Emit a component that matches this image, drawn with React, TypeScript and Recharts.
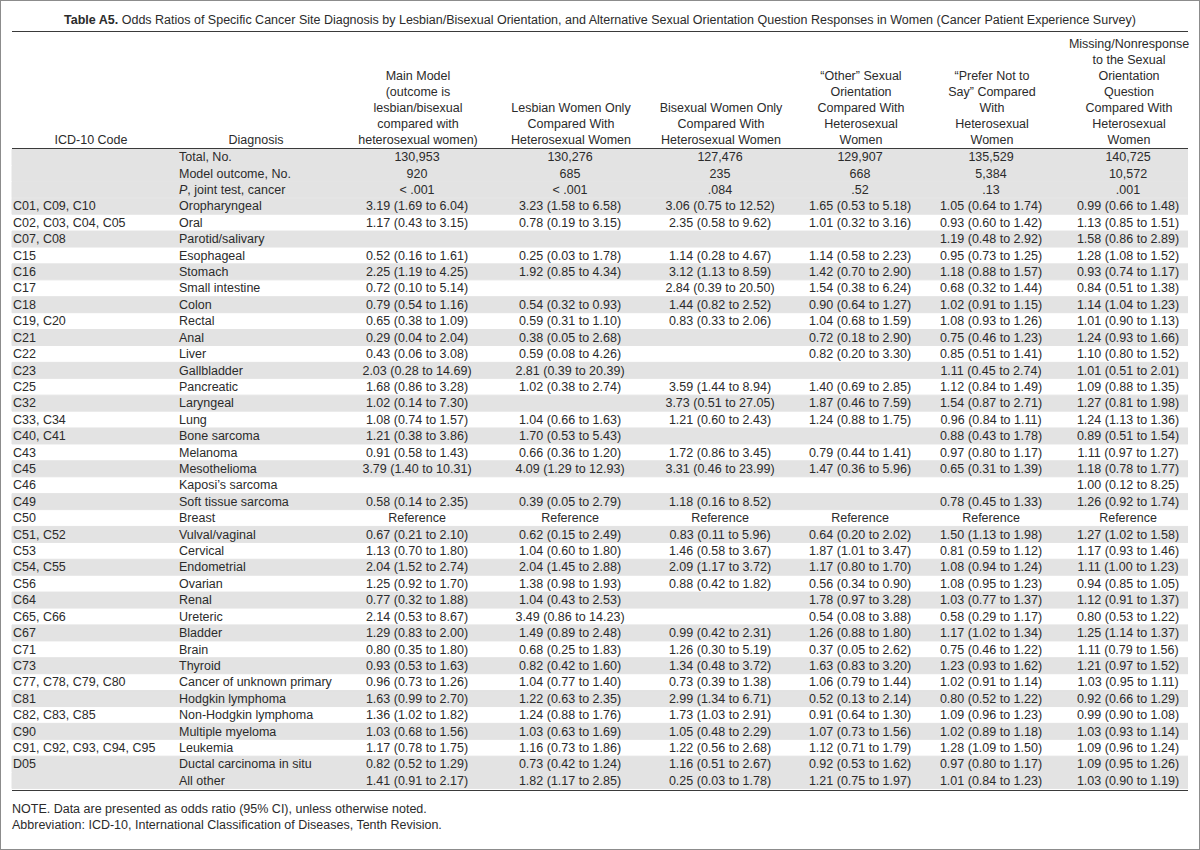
import React from "react";
import { BarChart, Bar, XAxis, YAxis } from "recharts";

const FONT = '"Liberation Sans", Arial, sans-serif';
const INK = "#2b2b2b";

const codes = [
  "", "", "",
  "C01, C09, C10", "C02, C03, C04, C05", "C07, C08", "C15", "C16", "C17", "C18",
  "C19, C20", "C21", "C22", "C23", "C25", "C32", "C33, C34", "C40, C41", "C43",
  "C45", "C46", "C49", "C50", "C51, C52", "C53", "C54, C55", "C56", "C64",
  "C65, C66", "C67", "C71", "C73", "C77, C78, C79, C80", "C81", "C82, C83, C85",
  "C90", "C91, C92, C93, C94, C95", "D05", "",
];

const diagnoses = [
  "Total, No.", "Model outcome, No.", "P, joint test, cancer",
  "Oropharyngeal", "Oral", "Parotid/salivary", "Esophageal", "Stomach",
  "Small intestine", "Colon", "Rectal", "Anal", "Liver", "Gallbladder",
  "Pancreatic", "Laryngeal", "Lung", "Bone sarcoma", "Melanoma", "Mesothelioma",
  "Kaposi\u2019s sarcoma", "Soft tissue sarcoma", "Breast", "Vulval/vaginal",
  "Cervical", "Endometrial", "Ovarian", "Renal", "Ureteric", "Bladder", "Brain",
  "Thyroid", "Cancer of unknown primary", "Hodgkin lymphoma",
  "Non-Hodgkin lymphoma", "Multiple myeloma", "Leukemia",
  "Ductal carcinoma in situ", "All other",
];

const mainModel = [
  "130,953", "920", "< .001",
  "3.19 (1.69 to 6.04)", "1.17 (0.43 to 3.15)", "", "0.52 (0.16 to 1.61)",
  "2.25 (1.19 to 4.25)", "0.72 (0.10 to 5.14)", "0.79 (0.54 to 1.16)",
  "0.65 (0.38 to 1.09)", "0.29 (0.04 to 2.04)", "0.43 (0.06 to 3.08)",
  "2.03 (0.28 to 14.69)", "1.68 (0.86 to 3.28)", "1.02 (0.14 to 7.30)",
  "1.08 (0.74 to 1.57)", "1.21 (0.38 to 3.86)", "0.91 (0.58 to 1.43)",
  "3.79 (1.40 to 10.31)", "", "0.58 (0.14 to 2.35)", "Reference",
  "0.67 (0.21 to 2.10)", "1.13 (0.70 to 1.80)", "2.04 (1.52 to 2.74)",
  "1.25 (0.92 to 1.70)", "0.77 (0.32 to 1.88)", "2.14 (0.53 to 8.67)",
  "1.29 (0.83 to 2.00)", "0.80 (0.35 to 1.80)", "0.93 (0.53 to 1.63)",
  "0.96 (0.73 to 1.26)", "1.63 (0.99 to 2.70)", "1.36 (1.02 to 1.82)",
  "1.03 (0.68 to 1.56)", "1.17 (0.78 to 1.75)", "0.82 (0.52 to 1.29)",
  "1.41 (0.91 to 2.17)",
];

const lesbianOnly = [
  "130,276", "685", "< .001",
  "3.23 (1.58 to 6.58)", "0.78 (0.19 to 3.15)", "", "0.25 (0.03 to 1.78)",
  "1.92 (0.85 to 4.34)", "", "0.54 (0.32 to 0.93)", "0.59 (0.31 to 1.10)",
  "0.38 (0.05 to 2.68)", "0.59 (0.08 to 4.26)", "2.81 (0.39 to 20.39)",
  "1.02 (0.38 to 2.74)", "", "1.04 (0.66 to 1.63)", "1.70 (0.53 to 5.43)",
  "0.66 (0.36 to 1.20)", "4.09 (1.29 to 12.93)", "", "0.39 (0.05 to 2.79)",
  "Reference", "0.62 (0.15 to 2.49)", "1.04 (0.60 to 1.80)",
  "2.04 (1.45 to 2.88)", "1.38 (0.98 to 1.93)", "1.04 (0.43 to 2.53)",
  "3.49 (0.86 to 14.23)", "1.49 (0.89 to 2.48)", "0.68 (0.25 to 1.83)",
  "0.82 (0.42 to 1.60)", "1.04 (0.77 to 1.40)", "1.22 (0.63 to 2.35)",
  "1.24 (0.88 to 1.76)", "1.03 (0.63 to 1.69)", "1.16 (0.73 to 1.86)",
  "0.73 (0.42 to 1.24)", "1.82 (1.17 to 2.85)",
];

const bisexualOnly = [
  "127,476", "235", ".084",
  "3.06 (0.75 to 12.52)", "2.35 (0.58 to 9.62)", "", "1.14 (0.28 to 4.67)",
  "3.12 (1.13 to 8.59)", "2.84 (0.39 to 20.50)", "1.44 (0.82 to 2.52)",
  "0.83 (0.33 to 2.06)", "", "", "", "3.59 (1.44 to 8.94)",
  "3.73 (0.51 to 27.05)", "1.21 (0.60 to 2.43)", "", "1.72 (0.86 to 3.45)",
  "3.31 (0.46 to 23.99)", "", "1.18 (0.16 to 8.52)", "Reference",
  "0.83 (0.11 to 5.96)", "1.46 (0.58 to 3.67)", "2.09 (1.17 to 3.72)",
  "0.88 (0.42 to 1.82)", "", "", "0.99 (0.42 to 2.31)", "1.26 (0.30 to 5.19)",
  "1.34 (0.48 to 3.72)", "0.73 (0.39 to 1.38)", "2.99 (1.34 to 6.71)",
  "1.73 (1.03 to 2.91)", "1.05 (0.48 to 2.29)", "1.22 (0.56 to 2.68)",
  "1.16 (0.51 to 2.67)", "0.25 (0.03 to 1.78)",
];

const otherOrientation = [
  "129,907", "668", ".52",
  "1.65 (0.53 to 5.18)", "1.01 (0.32 to 3.16)", "", "1.14 (0.58 to 2.23)",
  "1.42 (0.70 to 2.90)", "1.54 (0.38 to 6.24)", "0.90 (0.64 to 1.27)",
  "1.04 (0.68 to 1.59)", "0.72 (0.18 to 2.90)", "0.82 (0.20 to 3.30)", "",
  "1.40 (0.69 to 2.85)", "1.87 (0.46 to 7.59)", "1.24 (0.88 to 1.75)", "",
  "0.79 (0.44 to 1.41)", "1.47 (0.36 to 5.96)", "", "", "Reference",
  "0.64 (0.20 to 2.02)", "1.87 (1.01 to 3.47)", "1.17 (0.80 to 1.70)",
  "0.56 (0.34 to 0.90)", "1.78 (0.97 to 3.28)", "0.54 (0.08 to 3.88)",
  "1.26 (0.88 to 1.80)", "0.37 (0.05 to 2.62)", "1.63 (0.83 to 3.20)",
  "1.06 (0.79 to 1.44)", "0.52 (0.13 to 2.14)", "0.91 (0.64 to 1.30)",
  "1.07 (0.73 to 1.56)", "1.12 (0.71 to 1.79)", "0.92 (0.53 to 1.62)",
  "1.21 (0.75 to 1.97)",
];

const preferNotToSay = [
  "135,529", "5,384", ".13",
  "1.05 (0.64 to 1.74)", "0.93 (0.60 to 1.42)", "1.19 (0.48 to 2.92)",
  "0.95 (0.73 to 1.25)", "1.18 (0.88 to 1.57)", "0.68 (0.32 to 1.44)",
  "1.02 (0.91 to 1.15)", "1.08 (0.93 to 1.26)", "0.75 (0.46 to 1.23)",
  "0.85 (0.51 to 1.41)", "1.11 (0.45 to 2.74)", "1.12 (0.84 to 1.49)",
  "1.54 (0.87 to 2.71)", "0.96 (0.84 to 1.11)", "0.88 (0.43 to 1.78)",
  "0.97 (0.80 to 1.17)", "0.65 (0.31 to 1.39)", "", "0.78 (0.45 to 1.33)",
  "Reference", "1.50 (1.13 to 1.98)", "0.81 (0.59 to 1.12)",
  "1.08 (0.94 to 1.24)", "1.08 (0.95 to 1.23)", "1.03 (0.77 to 1.37)",
  "0.58 (0.29 to 1.17)", "1.17 (1.02 to 1.34)", "0.75 (0.46 to 1.22)",
  "1.23 (0.93 to 1.62)", "1.02 (0.91 to 1.14)", "0.80 (0.52 to 1.22)",
  "1.09 (0.96 to 1.23)", "1.02 (0.89 to 1.18)", "1.28 (1.09 to 1.50)",
  "0.97 (0.80 to 1.17)", "1.01 (0.84 to 1.23)",
];

const missingResponse = [
  "140,725", "10,572", ".001",
  "0.99 (0.66 to 1.48)", "1.13 (0.85 to 1.51)", "1.58 (0.86 to 2.89)",
  "1.28 (1.08 to 1.52)", "0.93 (0.74 to 1.17)", "0.84 (0.51 to 1.38)",
  "1.14 (1.04 to 1.23)", "1.01 (0.90 to 1.13)", "1.24 (0.93 to 1.66)",
  "1.10 (0.80 to 1.52)", "1.01 (0.51 to 2.01)", "1.09 (0.88 to 1.35)",
  "1.27 (0.81 to 1.98)", "1.24 (1.13 to 1.36)", "0.89 (0.51 to 1.54)",
  "1.11 (0.97 to 1.27)", "1.18 (0.78 to 1.77)", "1.00 (0.12 to 8.25)",
  "1.26 (0.92 to 1.74)", "Reference", "1.27 (1.02 to 1.58)",
  "1.17 (0.93 to 1.46)", "1.11 (1.00 to 1.23)", "0.94 (0.85 to 1.05)",
  "1.12 (0.91 to 1.37)", "0.80 (0.53 to 1.22)", "1.25 (1.14 to 1.37)",
  "1.11 (0.79 to 1.56)", "1.21 (0.97 to 1.52)", "1.03 (0.95 to 1.11)",
  "0.92 (0.66 to 1.29)", "0.99 (0.90 to 1.08)", "1.03 (0.93 to 1.14)",
  "1.09 (0.96 to 1.24)", "1.09 (0.95 to 1.26)", "1.03 (0.90 to 1.19)",
];

const valueColumns = [mainModel, lesbianOnly, bisexualOnly, otherOrientation, preferNotToSay, missingResponse];

const headers = [
  ["ICD-10 Code"],
  ["Diagnosis"],
  ["Main Model", "(outcome is", "lesbian/bisexual", "compared with", "heterosexual women)"],
  ["Lesbian Women Only", "Compared With", "Heterosexual Women"],
  ["Bisexual Women Only", "Compared With", "Heterosexual Women"],
  ["\u201cOther\u201d Sexual", "Orientation", "Compared With", "Heterosexual", "Women"],
  ["\u201cPrefer Not to", "Say\u201d Compared", "With", "Heterosexual", "Women"],
  ["Missing/Nonresponse", "to the Sexual", "Orientation", "Question", "Compared With", "Heterosexual", "Women"],
];

// page x of each column's centre (first two are header centres only)
const headerCenters = [91, 256, 418, 571, 721, 861, 992, 1129];
const TABLE_LEFT = 12;
const TABLE_W = 1176;
const BODY_TOP = 149;
const BODY_H = 640;
const AXIS_W = 1;

const rows = diagnoses.map((d, i) => ({
  diagnosis: d,
  shade: i < 4 || (i - 3) % 2 === 0 || i === diagnoses.length - 1 ? 1 : 0,
}));

const RowTick = (props: any) => {
  const { y, payload } = props;
  const i = diagnoses.indexOf(payload?.value);
  if (i < 0) return <g />;
  const d = diagnoses[i];
  const common = { fontSize: 12.5, fontFamily: FONT, fill: INK, dominantBaseline: "central" as const };
  return (
    <g>
      <text x={2} y={y} textAnchor="start" {...common}>{codes[i]}</text>
      <text x={168} y={y} textAnchor="start" {...common}>
        {d.startsWith("P,") ? (
          <>
            <tspan fontStyle="italic">P</tspan>
            <tspan>{d.slice(1)}</tspan>
          </>
        ) : d}
      </text>
      {valueColumns.map((col, c) => (
        <text key={c} x={headerCenters[c + 2] - TABLE_LEFT} y={y} textAnchor="middle" {...common}>
          {col[i]}
        </text>
      ))}
    </g>
  );
};

const rule = (top: number, h = 1.5): React.CSSProperties => ({
  position: "absolute", left: TABLE_LEFT, top, width: TABLE_W, height: h, background: "#3a3a3a",
});

export default function App() {
  return (
    <div style={{ position: "absolute", left: 0, top: 0, width: 1200, height: 850, background: "#fff", fontFamily: FONT, color: INK, fontSize: 12.5 }}>
      <div style={{ position: "absolute", left: 0, top: 0, width: 1198, height: 848, border: "1px solid #8c8c8c" }} />
      <div style={{ position: "absolute", left: TABLE_LEFT, top: 12, width: TABLE_W, textAlign: "center", lineHeight: "16px" }}>
        <b>Table A5.</b> Odds Ratios of Specific Cancer Site Diagnosis by Lesbian/Bisexual Orientation, and Alternative Sexual Orientation Question Responses in Women (Cancer Patient Experience Survey)
      </div>
      <div style={rule(30.5)} />
      {headers.map((lines, c) => (
        <div key={c} style={{ position: "absolute", left: headerCenters[c] - 80, top: 148 - lines.length * 16, width: 160, textAlign: "center", lineHeight: "16px" }}>
          {lines.map((l, k) => <div key={k}>{l}</div>)}
        </div>
      ))}
      <div style={{ position: "absolute", left: TABLE_LEFT - AXIS_W, top: BODY_TOP }}>
        <BarChart
          width={TABLE_W + AXIS_W}
          height={BODY_H}
          data={rows}
          layout="vertical"
          barCategoryGap={0}
          margin={{ top: 0, right: 0, bottom: 0, left: 0 }}
        >
          <XAxis type="number" domain={[0, 1]} hide />
          <YAxis
            type="category"
            dataKey="diagnosis"
            width={AXIS_W}
            interval={0}
            axisLine={false}
            tickLine={false}
            tick={(p: any) => <RowTick {...p} />}
          />
          <Bar dataKey="shade" fill="#e3e3e3" stroke="#e3e3e3" strokeWidth={1} isAnimationActive={false} />
        </BarChart>
      </div>
      <div style={rule(147.5)} />
      <div style={rule(789.5)} />
      <div style={{ position: "absolute", left: TABLE_LEFT, top: 801, lineHeight: "16px" }}>
        <div>NOTE. Data are presented as odds ratio (95% CI), unless otherwise noted.</div>
        <div>Abbreviation: ICD-10, International Classification of Diseases, Tenth Revision.</div>
      </div>
    </div>
  );
}
